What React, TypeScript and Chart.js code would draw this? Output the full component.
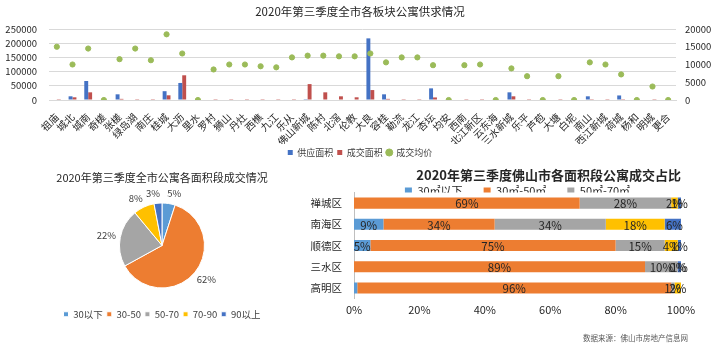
import React, { useEffect, useRef } from 'react';
import { Chart, registerables } from 'chart.js';

Chart.register(...registerables);

const FONT = '"Noto Sans CJK SC", "Noto Sans", sans-serif';

// ---------- Top chart: supply / deal / average price by area ----------
const areaLabels = [
  '祖庙', '城北', '城南', '奇槎', '张槎', '绿岛湖', '南庄', '桂城', '大沥', '里水',
  '罗村', '狮山', '丹灶', '西樵', '九江', '乐从', '佛山新城', '陈村', '北滘', '伦教',
  '大良', '容桂', '勒流', '龙江', '杏坛', '均安', '西南', '北江新区', '云东海', '三水新城',
  '乐平', '芦苞', '大塘', '白坭', '南山', '西江新城', '荷城', '杨和', '明城', '更合',
];
const supplyArea = [
  0, 13000, 67000, 0, 20000, 0, 0, 31000, 60000, 0,
  0, 0, 0, 0, 0, 0, 3000, 0, 0, 0,
  217000, 20000, 0, 0, 41000, 0, 0, 0, 0, 27000,
  0, 0, 0, 0, 13000, 0, 16000, 0, 0, 0,
];
const dealArea = [
  3000, 9500, 27000, 0, 4000, 3000, 3000, 16500, 87000, 0,
  3000, 3000, 3000, 3000, 3000, 3000, 56000, 27000, 13000, 9500,
  35000, 4000, 3000, 3000, 9000, 0, 3000, 3000, 0, 13000,
  3000, 0, 3000, 0, 3000, 3000, 3000, 0, 3000, 0,
];
const avgPrice = [
  15000, 10000, 14500, 0, 11500, 14500, 11200, 18500, 13100, 0,
  8600, 10000, 10000, 9500, 9200, 12000, 12500, 12500, 12300, 12300,
  13100, 10600, 12000, 12000, 9800, 0, 9800, 10000, 0, 8900,
  6700, 0, 6700, 0, 10600, 10000, 7200, 0, 3800, 0,
];

// ---------- Pie chart: city-wide deals by size band ----------
const pieLabels = ['30以下', '30-50', '50-70', '70-90', '90以上'];
const pieValues = [5, 62, 22, 8, 3];
const pieColors = ['#5B9BD5', '#ED7D31', '#A5A5A5', '#FFC000', '#4472C4'];

// ---------- Stacked bar: share by size band per district ----------
const districts = ['禅城区', '南海区', '顺德区', '三水区', '高明区'];
const segLabels = ['30㎡以下', '30㎡-50㎡', '50㎡-70㎡', '70㎡-90㎡', '90㎡以上'];
const seg30Below = [null, 9, 5, null, 1];
const seg30to50 = [69, 34, 75, 89, 96];
const seg50to70 = [28, 34, 15, 10, 1];
const seg70to90 = [2, 18, 4, 0, 2];
const seg90Above = [1, 6, 1, 1, null];
const segColors = ['#5B9BD5', '#ED7D31', '#A5A5A5', '#FFC000', '#4472C4'];

const sourceText = '数据来源：佛山市房地产信息网';

const barLabelPlugin = {
  id: 'barLabels',
  afterDatasetsDraw(chart: any) {
    const ctx = chart.ctx;
    ctx.save();
    ctx.font = `11.5px ${FONT}`;
    ctx.fillStyle = '#262626';
    ctx.textAlign = 'center';
    ctx.textBaseline = 'middle';
    chart.data.datasets.forEach((ds: any, di: number) => {
      const meta = chart.getDatasetMeta(di);
      meta.data.forEach((el: any, i: number) => {
        const v = ds.data[i];
        if (v === null || v === undefined) return;
        if (di === 0 && v < 2) return;
        const p = el.getProps(['x', 'y', 'base'], true);
        ctx.fillText(v + '%', (p.x + p.base) / 2, p.y + 1);
      });
    });
    ctx.restore();
  },
};

const pieLabelPlugin = {
  id: 'pieLabels',
  afterDatasetsDraw(chart: any) {
    const ctx = chart.ctx;
    const meta = chart.getDatasetMeta(0);
    const data = chart.data.datasets[0].data;
    ctx.save();
    ctx.font = `9.5px ${FONT}`;
    ctx.fillStyle = '#404040';
    ctx.textAlign = 'center';
    ctx.textBaseline = 'middle';
    meta.data.forEach((arc: any, i: number) => {
      const p = arc.getProps(['x', 'y', 'startAngle', 'endAngle', 'outerRadius'], true);
      const mid = (p.startAngle + p.endAngle) / 2;
      const r = p.outerRadius + 10;
      const c = Math.cos(mid);
      const s = Math.sin(mid);
      ctx.fillText(data[i] + '%', p.x + c * r + (c >= 0 ? 4 : -4), p.y + s * r);
    });
    ctx.restore();
  },
};

const plainNumber = (v: any) => String(v);

export default function App() {
  const topRef = useRef<HTMLCanvasElement>(null);
  const pieRef = useRef<HTMLCanvasElement>(null);
  const barRef = useRef<HTMLCanvasElement>(null);

  useEffect(() => {
    const top = new Chart(topRef.current as HTMLCanvasElement, {
      type: 'bar',
      data: {
        labels: areaLabels,
        datasets: [
          {
            type: 'bar', label: '供应面积', data: supplyArea, backgroundColor: '#4472C4',
            yAxisID: 'y', order: 2, categoryPercentage: 0.5, barPercentage: 1, pointStyle: 'rect',
          } as any,
          {
            type: 'bar', label: '成交面积', data: dealArea, backgroundColor: '#C0504D',
            yAxisID: 'y', order: 2, categoryPercentage: 0.5, barPercentage: 1, pointStyle: 'rect',
          } as any,
          {
            type: 'line', label: '成交均价', data: avgPrice, yAxisID: 'y1', showLine: false,
            pointRadius: 2.6, pointStyle: 'circle', backgroundColor: '#9BBB59', borderColor: '#9BBB59',
            pointBackgroundColor: '#9BBB59', pointBorderColor: '#9BBB59', order: 1,
          } as any,
        ],
      },
      options: {
        animation: false,
        responsive: false,
        layout: { padding: 0 },
        plugins: {
          title: {
            display: true, text: '2020年第三季度全市各板块公寓供求情况', color: '#262626',
            font: { family: FONT, size: 11.5, weight: 'normal' }, padding: { top: 5.1, bottom: 10.1 },
          },
          legend: {
            position: 'bottom',
            labels: {
              usePointStyle: true, boxWidth: 5, boxHeight: 5, padding: 4, color: '#404040',
              font: { family: FONT, size: 9 },
              sort: (a: any, b: any) => a.datasetIndex - b.datasetIndex,
            },
          },
          tooltip: { enabled: false },
        },
        scales: {
          x: {
            grid: { display: false },
            border: { color: '#D9D9D9' },
            ticks: {
              autoSkip: false, maxRotation: 45, minRotation: 45, padding: 3,
              font: { family: FONT, size: 10 }, color: '#262626',
            },
            afterFit: (s: any) => { s.height = 44; },
          },
          y: {
            position: 'left', min: 0, max: 250000,
            ticks: {
              stepSize: 50000, autoSkip: false, padding: 12, font: { family: FONT, size: 9.5 }, color: '#262626',
              callback: plainNumber,
            },
            grid: { color: '#D9D9D9', drawTicks: false },
            border: { display: false },
            afterFit: (s: any) => { s.width = 49; },
          },
          y1: {
            position: 'right', min: 0, max: 20000,
            ticks: {
              stepSize: 5000, autoSkip: false, padding: 9, font: { family: FONT, size: 9.5 }, color: '#262626',
              callback: plainNumber,
            },
            grid: { display: false, drawTicks: false },
            border: { display: false },
            afterFit: (s: any) => { s.width = 44; },
          },
        },
      } as any,
    });

    const pie = new Chart(pieRef.current as HTMLCanvasElement, {
      type: 'pie',
      data: {
        labels: pieLabels,
        datasets: [{
          data: pieValues, backgroundColor: pieColors, borderColor: '#FFFFFF', borderWidth: 1, radius: 42.5,
        } as any],
      },
      options: {
        animation: false,
        responsive: false,
        layout: { padding: 0 },
        plugins: {
          title: {
            display: true, text: '2020年第三季度全市公寓各面积段成交情况', color: '#262626',
            font: { family: FONT, size: 11, weight: 'normal' }, padding: { top: 11.4, bottom: 0.9 },
          },
          legend: {
            position: 'bottom',
            labels: { boxWidth: 5, boxHeight: 5, padding: 4, color: '#404040', font: { family: FONT, size: 9.5 } },
          },
          tooltip: { enabled: false },
        },
      } as any,
      plugins: [pieLabelPlugin],
    });

    const segData = [seg30Below, seg30to50, seg50to70, seg70to90, seg90Above];
    const bar = new Chart(barRef.current as HTMLCanvasElement, {
      type: 'bar',
      data: {
        labels: districts,
        datasets: segLabels.map((lab, i) => ({
          label: lab, data: segData[i], backgroundColor: segColors[i],
          categoryPercentage: 0.52, barPercentage: 1, borderWidth: 0,
        })) as any,
      },
      options: {
        indexAxis: 'y',
        animation: false,
        responsive: false,
        layout: { padding: { right: 30 } },
        plugins: {
          title: {
            display: true, fullSize: false, align: 'end', text: '2020年第三季度佛山市各面积段公寓成交占比',
            color: '#262626', font: { family: FONT, size: 13, weight: 'bold', lineHeight: 1 },
            padding: { top: 8.5, bottom: -17 },
          },
          legend: {
            position: 'top', fullSize: false, maxHeight: 28,
            labels: {
              boxWidth: 7, boxHeight: 7, padding: 21, color: '#262626', font: { family: FONT, size: 11 },
              filter: (item: any) => item.datasetIndex < 3,
            },
          },
          tooltip: { enabled: false },
        },
        scales: {
          x: {
            stacked: true, min: 0, max: 100,
            grid: { display: false, drawTicks: false },
            border: { display: false },
            ticks: {
              stepSize: 20, padding: 5, color: '#262626', font: { family: FONT, size: 11 },
              callback: (v: any) => v + '%',
            },
            afterFit: (s: any) => { s.height = 31.4; },
          },
          y: {
            stacked: true,
            grid: { display: false, drawTicks: false },
            border: { display: true, color: '#BFBFBF' },
            ticks: { padding: 12, color: '#262626', font: { family: FONT, size: 10.5 } },
            afterFit: (s: any) => { s.width = 54; },
          },
        },
      } as any,
      plugins: [barLabelPlugin],
    });

    return () => {
      top.destroy();
      pie.destroy();
      bar.destroy();
    };
  }, []);

  return (
    <div style={{ position: 'fixed', left: 0, top: 0, width: 720, height: 354, background: '#FFFFFF', overflow: 'hidden' }}>
      <canvas ref={topRef} width={720} height={167}
        style={{ position: 'absolute', left: 0, top: 0, width: 720, height: 167 }} />
      <canvas ref={pieRef} width={324} height={169}
        style={{ position: 'absolute', left: 0, top: 160, width: 324, height: 169 }} />
      <canvas ref={barRef} width={411} height={170}
        style={{ position: 'absolute', left: 300, top: 160, width: 411, height: 170 }} />
      <div style={{
        position: 'absolute', left: 583, top: 332, fontFamily: FONT, fontSize: 7.5, color: '#595959',
        whiteSpace: 'nowrap', lineHeight: '11px',
      }}>{sourceText}</div>
    </div>
  );
}
